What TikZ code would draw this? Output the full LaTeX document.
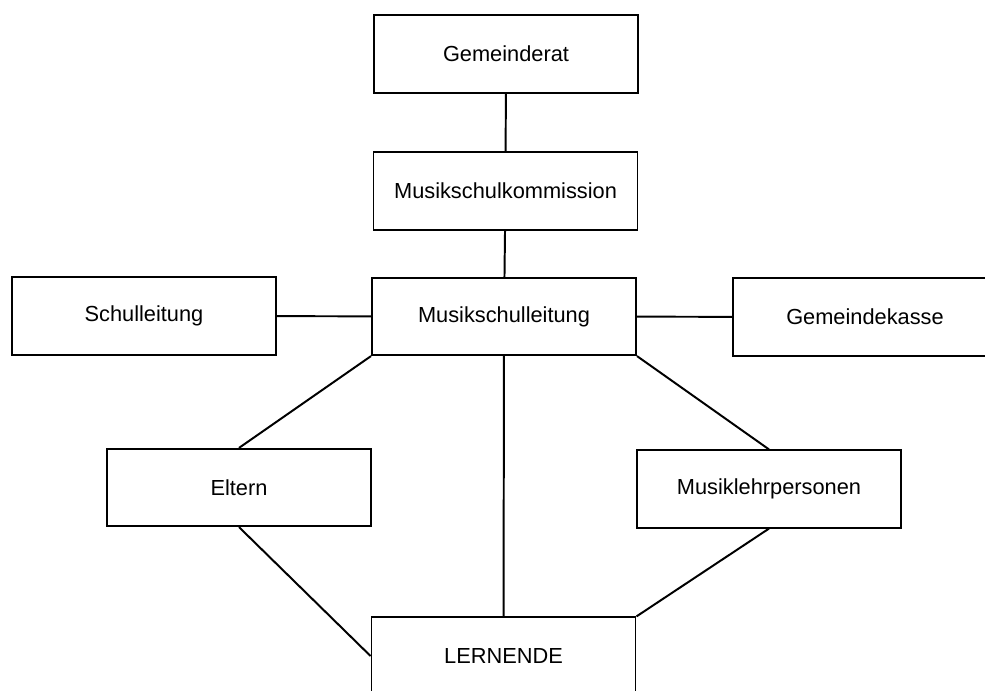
\documentclass[tikz,border=0pt]{standalone}
\usepackage{fontspec}
\setmainfont{Liberation Sans}
\usepackage{tikz}

\begin{document}
\begin{tikzpicture}[x=0.25mm, y=-0.25mm]

	\tikzstyle{unit} = [rectangle, draw=black, line width=1.4pt, minimum width=66mm, minimum height=19.3mm, inner sep=0pt, font=\fontsize{15.5}{18}\selectfont]
	\tikzstyle{link} = [-, line width=1.4pt]

	\useasboundingbox (0,0) rectangle (985,691);

%------------------------------------------------------------
	\node[unit] (rat) at (506,54) {Gemeinderat};
	\node[unit] (kommission) at (505.5,191) {Musikschulkommission};

	\path[link] (rat) edge (kommission);

%------------------------------------------------------------
	\node[unit] (schulleitung) at (144,316) {Schulleitung};
	\node[unit] (leitung) at (504,316.5) {Musikschulleitung};
	\node[unit] (kasse) at (865,317) {Gemeindekasse};

	\path[link] (kommission) edge (leitung);
	\path[link] (schulleitung) edge (leitung);
	\path[link] (leitung) edge (kasse);

%------------------------------------------------------------
	\node[unit] (eltern) at (239,487.5) {Eltern};
	\node[unit] (lehrer) at (769,489) {Musiklehrpersonen};

	\path[link] (leitung.south west) edge (eltern.north);
	\path[link] (leitung.south east) edge (lehrer.north);

%------------------------------------------------------------
	\node[unit] (lernende) at (503.5,656) {LERNENDE};

	\path[link] (leitung) edge (lernende);
	\path[link] (eltern.south) edge (lernende.west);
	\path[link] (lehrer.south) edge (lernende.north east);

\end{tikzpicture}
\end{document}
